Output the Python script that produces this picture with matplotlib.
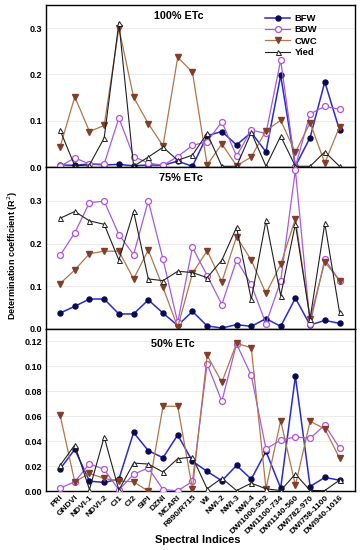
import matplotlib
matplotlib.use("Agg")
import matplotlib.pyplot as plt
import numpy as np

plt.rcParams['font.family'] = ['Liberation Sans', 'DejaVu Sans']

categories = ["PRI", "GNDVI", "NDVI-1", "NDVI-2", "CI1", "CI2", "SIPI", "DZNI", "MCARI",
              "R890/R715", "WI", "NWI-2", "NWI-3", "NWI-4", "DWI1000-952", "DWI1100-734",
              "DWI1140-560", "DWI782-970", "DWI758-1100", "DWI940-1016"]

# 100% ETc
bfw_100 = [0.005, 0.004, 0.007, 0.005, 0.006, 0.003, 0.005, 0.004, 0.013, 0.002,
           0.068, 0.077, 0.048, 0.075, 0.033, 0.198, 0.002, 0.064, 0.184, 0.080]
bdw_100 = [0.002, 0.020, 0.007, 0.007, 0.106, 0.023, 0.009, 0.004, 0.023, 0.047,
           0.055, 0.098, 0.024, 0.080, 0.073, 0.231, 0.001, 0.115, 0.131, 0.125]
cwc_100 = [0.043, 0.152, 0.077, 0.090, 0.300, 0.151, 0.094, 0.046, 0.237, 0.205,
           0.005, 0.050, 0.003, 0.022, 0.079, 0.101, 0.032, 0.096, 0.009, 0.087]
yld_100 = [0.080, 0.003, 0.005, 0.063, 0.312, 0.002, 0.022, 0.043, 0.015, 0.026,
           0.073, 0.002, 0.002, 0.075, 0.002, 0.067, 0.002, 0.002, 0.033, 0.002]

# 75% ETc
bfw_75 = [0.037, 0.053, 0.070, 0.070, 0.035, 0.035, 0.068, 0.037, 0.008, 0.041,
          0.007, 0.002, 0.010, 0.006, 0.024, 0.006, 0.072, 0.009, 0.020, 0.013]
bdw_75 = [0.172, 0.225, 0.296, 0.299, 0.221, 0.174, 0.300, 0.163, 0.015, 0.191,
          0.125, 0.057, 0.161, 0.104, 0.012, 0.112, 0.372, 0.012, 0.163, 0.113]
cwc_75 = [0.106, 0.138, 0.176, 0.182, 0.182, 0.117, 0.185, 0.097, 0.004, 0.130,
          0.183, 0.110, 0.216, 0.161, 0.083, 0.151, 0.258, 0.024, 0.157, 0.113]
yld_75 = [0.259, 0.275, 0.253, 0.245, 0.161, 0.275, 0.117, 0.113, 0.135, 0.132,
          0.120, 0.161, 0.238, 0.069, 0.254, 0.078, 0.246, 0.024, 0.247, 0.039]

# 50% ETc
bfw_50 = [0.0177, 0.0335, 0.008, 0.007, 0.0096, 0.047, 0.0324, 0.0268, 0.045, 0.024,
          0.0158, 0.0083, 0.0206, 0.0096, 0.0319, 0.0024, 0.092, 0.0037, 0.011, 0.0088]
bdw_50 = [0.0024, 0.0075, 0.022, 0.0174, 0.001, 0.0134, 0.0187, 0.0013, 0.0003, 0.0078,
          0.102, 0.072, 0.118, 0.0927, 0.0338, 0.041, 0.0434, 0.0423, 0.053, 0.0346]
cwc_50 = [0.061, 0.0075, 0.0142, 0.0102, 0.008, 0.0075, 0.0, 0.068, 0.068, 0.0019,
          0.1088, 0.0873, 0.1184, 0.1149, 0.002, 0.0565, 0.0046, 0.056, 0.0499, 0.0265]
yld_50 = [0.0206, 0.037, 0.0013, 0.0434, 0.0008, 0.0225, 0.0217, 0.0153, 0.026, 0.0273,
          0.0019, 0.0104, 0.0005, 0.0064, 0.0019, 0.0005, 0.0137, 0.0005, 0.0005, 0.0088]

panel_titles = ["100% ETc", "75% ETc", "50% ETc"]
series_names = ["BFW", "BDW", "CWC", "Yied"]
panels = [
    [bfw_100, bdw_100, cwc_100, yld_100],
    [bfw_75, bdw_75, cwc_75, yld_75],
    [bfw_50, bdw_50, cwc_50, yld_50],
]
ylims = [(0, 0.35), (0, 0.38), (0, 0.13)]
yticks = [[0.0, 0.1, 0.2, 0.3], [0.0, 0.1, 0.2, 0.3],
          [0.0, 0.02, 0.04, 0.06, 0.08, 0.10, 0.12]]
yfmt = ["{:.1f}", "{:.1f}", "{:.2f}"]

styles = [
    dict(color="#2a2ad0", marker="o", mfc="#0a0a50", mec="#0a0a50", ms=3.6, lw=1.1),
    dict(color="#a45ae6", marker="o", mfc="white", mec="#b44fe0", ms=4.3, lw=0.9, mew=0.9),
    dict(color="#b0764a", marker="v", mfc="#6b4a2a", mec="#8a3a2a", ms=4.3, lw=0.9),
    dict(color="#202020", marker="^", mfc="white", mec="#202020", ms=3.6, lw=0.8, mew=0.7),
]

fig = plt.figure(figsize=(3.6, 5.5), dpi=100)
left, width = 0.128, 0.858
bottoms = [0.696, 0.402, 0.107]
height = 0.295
x = np.arange(len(categories))
title_pos = [(0.43, 0.96), (0.435, 0.96), (0.41, 0.935)]

axes = []
for i in range(3):
    ax = fig.add_axes([left, bottoms[i], width, height])
    axes.append(ax)
    for name, data, st in zip(series_names, panels[i], styles):
        ax.plot(x, data, label=name, zorder=3, **st)
    ax.set_xlim(-0.95, 20.05)
    ax.set_ylim(*ylims[i])
    ax.set_yticks(yticks[i])
    ax.set_yticklabels([yfmt[i].format(v) for v in yticks[i]], fontsize=6.5,
                       fontweight="bold")
    ax.grid(axis="y", color="#e8e8e8", lw=0.6)
    ax.set_axisbelow(True)
    ax.tick_params(axis="both", length=0, pad=3)
    for s in ax.spines.values():
        s.set_linewidth(1.0)
    ax.text(title_pos[i][0], title_pos[i][1], panel_titles[i], transform=ax.transAxes,
            ha="center", va="top", fontsize=7.8, fontweight="bold")
    ax.set_xticks(x)
    if i < 2:
        ax.set_xticklabels([])
    else:
        ax.set_xticklabels(categories, rotation=45, ha="right", va="top", fontsize=6,
                           fontweight="bold", rotation_mode="anchor")
        ax.tick_params(axis="x", pad=2)

leg = axes[0].legend(loc="upper right", bbox_to_anchor=(0.9, 0.985), frameon=False,
                     fontsize=6.8, handlelength=2.6, labelspacing=0.25,
                     borderaxespad=0.3, handletextpad=0.5)
for t in leg.get_texts():
    t.set_fontweight("bold")

fig.text(0.035, 0.535, "Determination coefficient (R$^2$)", rotation=90,
         ha="center", va="center", fontsize=6.5, fontweight="bold")
fig.text(0.55, 0.018, "Spectral Indices", ha="center", va="center",
         fontsize=8, fontweight="bold")

fig.savefig("out.png", dpi=100)
